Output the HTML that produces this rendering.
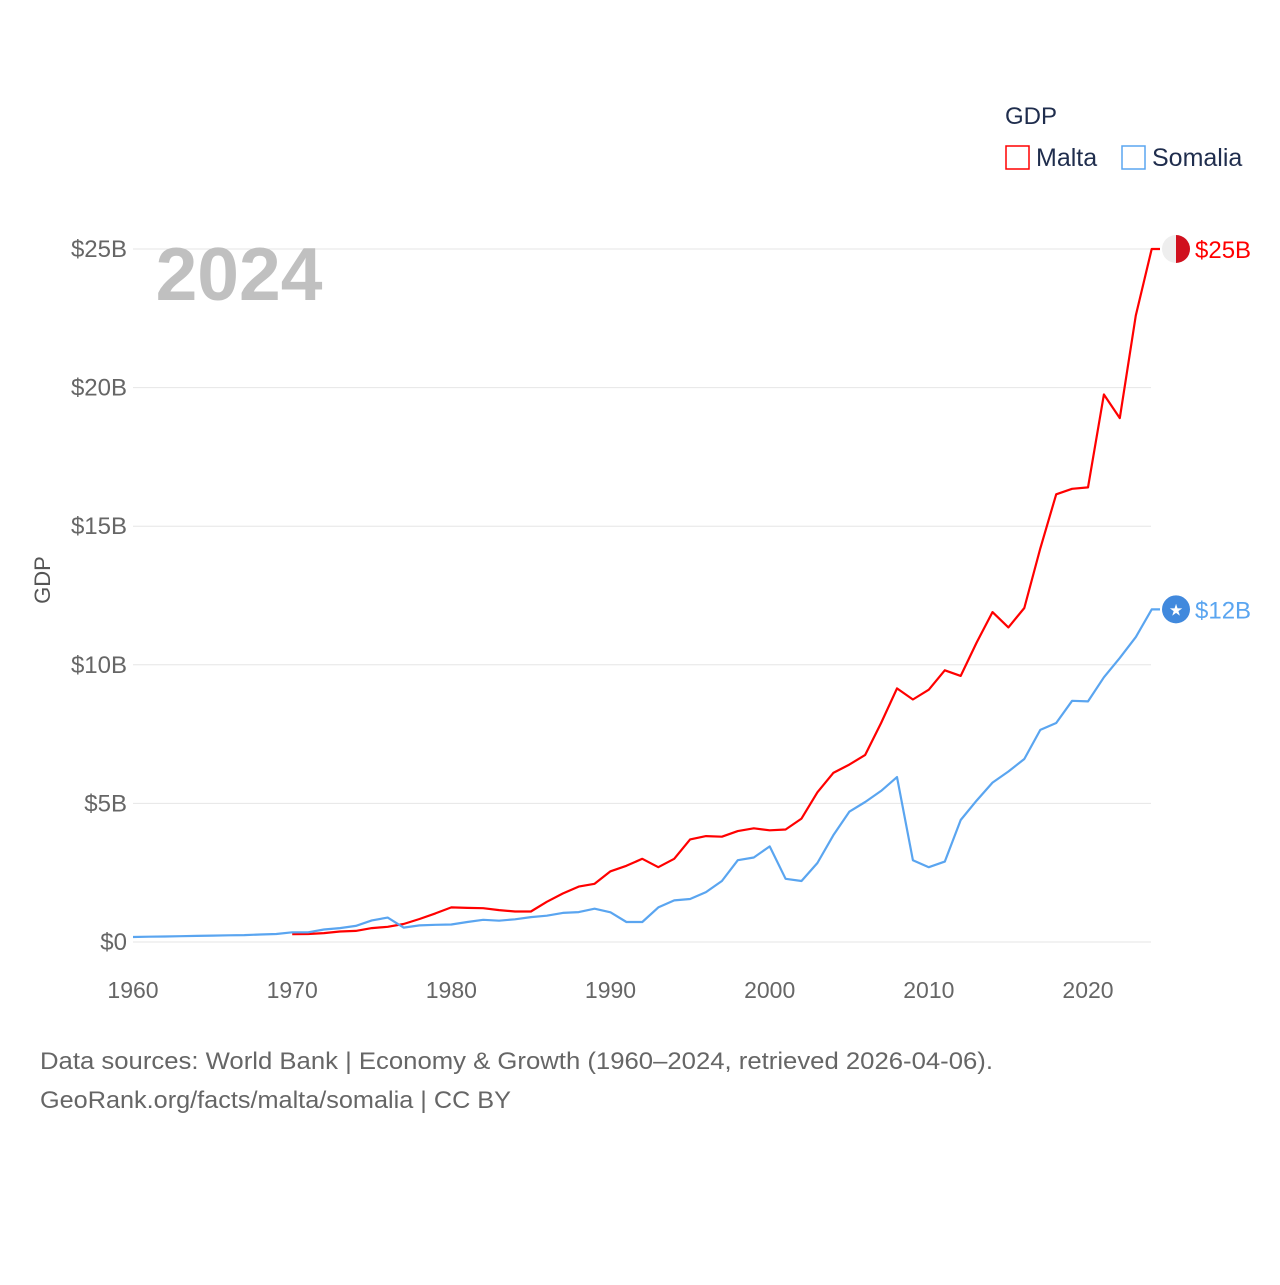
<!DOCTYPE html>
<html><head><meta charset="utf-8"><style>
body{margin:0;background:#fff;font-family:"Liberation Sans",sans-serif;}
svg text{font-family:"Liberation Sans",sans-serif;}
</style></head><body>
<svg id="chart" width="1280" height="1280" viewBox="0 0 1280 1280">
<g id="grid"></g>
<g id="yticks"></g>
<g id="xticks"></g>
<text x="239" y="300" font-size="75" font-weight="bold" fill="#c0c0c0" text-anchor="middle">2024</text>
<text x="50" y="580" font-size="22" fill="#555" text-anchor="middle" transform="rotate(-90 50 580)">GDP</text>
<g id="series"></g>
<g>
<text x="1005" y="124" font-size="24" fill="#1f2d4d">GDP</text>
<g><rect x="1006" y="146" width="23" height="23" fill="none" stroke="#f00" stroke-width="1.5"/><text x="1036" y="166" font-size="25" fill="#1f2d4d">Malta</text></g>
<g><rect x="1122" y="146" width="23" height="23" fill="none" stroke="#5aa5f0" stroke-width="1.5"/><text x="1152" y="166" font-size="25" fill="#1f2d4d">Somalia</text></g>
</g>
<text x="40" y="1069" font-size="24" fill="#666" textLength="953" lengthAdjust="spacingAndGlyphs">Data sources: World Bank | Economy &amp; Growth (1960–2024, retrieved 2026-04-06).</text>
<text x="40" y="1108" font-size="24" fill="#666" textLength="471" lengthAdjust="spacingAndGlyphs">GeoRank.org/facts/malta/somalia | CC BY</text>
</svg>
<script>
const yTicks=[0,5,10,15,20,25];
const xTicks=[1960,1970,1980,1990,2000,2010,2020];
const maltaYears=[1970,1971,1972,1973,1974,1975,1976,1977,1978,1979,1980,1981,1982,1983,1984,1985,1986,1987,1988,1989,1990,1991,1992,1993,1994,1995,1996,1997,1998,1999,2000,2001,2002,2003,2004,2005,2006,2007,2008,2009,2010,2011,2012,2013,2014,2015,2016,2017,2018,2019,2020,2021,2022,2023,2024];
const maltaGdp=[0.28,0.29,0.32,0.38,0.40,0.50,0.55,0.65,0.83,1.03,1.25,1.23,1.22,1.15,1.10,1.10,1.45,1.75,2.0,2.1,2.55,2.75,3.0,2.7,3.0,3.7,3.82,3.8,4.0,4.1,4.03,4.06,4.45,5.4,6.1,6.4,6.75,7.9,9.15,8.75,9.1,9.8,9.6,10.8,11.9,11.35,12.05,14.2,16.15,16.35,16.4,19.75,18.9,22.6,25.0];
const somaliaYears=[];for(let y=1960;y<=2024;y++)somaliaYears.push(y);
const somaliaGdp=[0.18,0.19,0.2,0.21,0.22,0.23,0.24,0.25,0.27,0.29,0.35,0.35,0.45,0.5,0.58,0.78,0.88,0.52,0.6,0.62,0.63,0.72,0.8,0.77,0.82,0.9,0.95,1.05,1.08,1.2,1.07,0.72,0.72,1.25,1.5,1.55,1.8,2.2,2.95,3.05,3.45,2.28,2.2,2.85,3.85,4.7,5.05,5.45,5.95,2.95,2.7,2.9,4.4,5.1,5.75,6.15,6.6,7.65,7.9,8.7,8.68,9.55,10.25,11.0,12.0];
const NS='http://www.w3.org/2000/svg';
const xs=y=>133+(y-1960)*(1088-133)/60;
const ys=v=>942-v*(942-249)/25;
function mk(tag,attrs,parent){const e=document.createElementNS(NS,tag);for(const k in attrs)e.setAttribute(k,attrs[k]);parent.appendChild(e);return e;}
const grid=document.getElementById('grid'),yt=document.getElementById('yticks'),xt=document.getElementById('xticks'),ser=document.getElementById('series');
yTicks.forEach(v=>{
 const l=mk('line',{x1:133,x2:1151,y1:ys(v),y2:ys(v),stroke:'#e6e6e6','stroke-width':1},grid);
 
 
 const t=mk('text',{x:127,y:ys(v)+8,'font-size':24,fill:'#666','text-anchor':'end'},yt);
 t.textContent='$'+v+(v?'B':'');
 
 
});
xTicks.forEach(y=>{
 const t=mk('text',{x:xs(y),y:998,'font-size':23,fill:'#666','text-anchor':'middle'},xt);
 t.textContent=y;
 
 
});
function line(years,vals,color,name,label,flag){
 let d=years.map((y,i)=>(i?'L':'M')+xs(y).toFixed(1)+' '+ys(vals[i]).toFixed(1)).join(' ');
 const ly=ys(vals[vals.length-1]);
 d+=' L1160 '+ly.toFixed(1);
 const p=mk('path',{d:d,fill:'none',stroke:color,'stroke-width':2.2,'stroke-linejoin':'round'},ser);
 
 
 const c=mk('circle',{cx:1176,cy:ly,r:14,fill:flag},ser);
 
 
 const t=mk('text',{x:1195,y:ly+9,'font-size':24,fill:color},ser);
 t.textContent=label;
 
 
 return ly;
}
const ml=line(maltaYears,maltaGdp,'#f00','malta','$25B','#eee');
const half=mk('path',{d:'M1176 '+(ml-14)+' A14 14 0 0 1 1176 '+(ml+14)+' Z',fill:'#d0101e'},ser);


const sl=line(somaliaYears,somaliaGdp,'#5aa5f0','somalia','$12B','#4189dd');
const st=mk('text',{x:1176,y:sl+6,'font-size':16,fill:'#fff','text-anchor':'middle'},ser);
st.textContent='★';


</script>
</body></html>
